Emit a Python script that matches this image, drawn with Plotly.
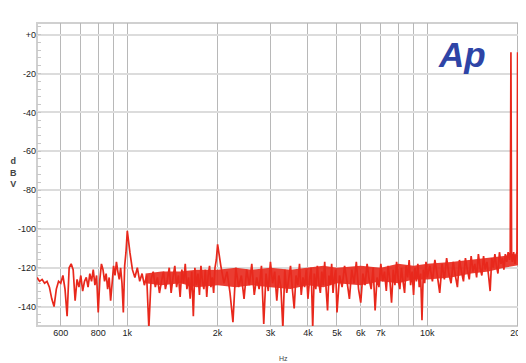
import plotly.graph_objects as go

# ---- data (FFT spectrum, Hz vs dB) ----
freq_a = [500, 510, 520, 530, 540, 550, 560, 570, 580, 590, 600, 610, 620, 630, 640, 650, 660, 670, 680, 690,
          700, 710, 720, 730, 740, 750, 760, 770, 780, 790, 800, 810, 820, 830, 840, 850, 860, 870, 880, 890,
          900, 910, 920, 930, 940, 950, 960, 970, 980, 990, 1000]
db_a = [-125, -127, -126, -128, -127, -130, -136, -140, -131, -127, -128, -124, -131, -145, -120, -118, -121, -137, -126, -130,
        -124, -132, -127, -125, -130, -123, -127, -121, -129, -124, -143, -126, -118, -121, -127, -123, -131, -125, -137, -128,
        -119, -124, -117, -122, -126, -120, -128, -143, -119, -112, -101]

freq_b = [1020, 1040, 1060, 1080, 1100, 1120, 1140, 1160, 1180, 1200, 1220, 1240, 1260, 1280, 1300, 1320, 1340, 1360, 1380, 1400,
          1420, 1440, 1460, 1480, 1500, 1520, 1540, 1560, 1580, 1600, 1620, 1640, 1660, 1680, 1700, 1720, 1740, 1760, 1780, 1800,
          1820, 1840, 1860, 1880, 1900, 1920, 1940, 1960, 1980, 2000]
db_b = [-112, -121, -125, -120, -127, -123, -129, -124, -151, -126, -122, -130, -125, -133, -127, -122, -131, -126, -120, -133,
        -125, -119, -130, -124, -135, -121, -128, -118, -131, -125, -136, -122, -145, -120, -129, -123, -134, -119, -127, -131,
        -121, -135, -124, -119, -130, -125, -133, -120, -116, -108]

freq_c = [2050, 2100, 2150, 2200, 2250, 2300, 2350, 2400, 2450, 2500, 2550, 2600, 2650, 2700, 2750, 2800, 2850, 2900, 2950, 3000,
          3050, 3100, 3150, 3200, 3250, 3300, 3350, 3400, 3450, 3500, 3550, 3600, 3650, 3700, 3750, 3800, 3850, 3900, 3950, 4000,
          4050, 4100, 4150, 4200, 4250, 4300, 4350, 4400, 4450, 4500, 4550, 4600, 4650, 4700, 4750, 4800, 4850, 4900, 4950, 5000]
db_c = [-119, -128, -122, -133, -148, -120, -130, -124, -136, -121, -129, -118, -134, -125, -131, -119, -149, -123, -132, -117,
        -128, -122, -137, -124, -130, -151, -121, -133, -126, -119, -131, -141, -124, -129, -118, -134, -125, -130, -121, -136,
        -126, -120, -151, -123, -131, -119, -128, -133, -122, -129, -117, -131, -142, -124, -129, -118, -133, -125, -121, -143]

freq_d = [5100, 5200, 5300, 5400, 5500, 5600, 5700, 5800, 5900, 6000, 6100, 6200, 6300, 6400, 6500, 6600, 6700, 6800, 6900, 7000,
          7100, 7200, 7300, 7400, 7500, 7600, 7700, 7800, 7900, 8000, 8100, 8200, 8300, 8400, 8500, 8600, 8700, 8800, 8900, 9000,
          9100, 9200, 9300, 9400, 9500, 9600, 9700, 9800, 9900, 10000]
db_d = [-124, -130, -119, -127, -136, -121, -128, -117, -131, -138, -123, -129, -118, -126, -131, -120, -142, -125, -130, -118,
        -127, -122, -132, -119, -126, -138, -121, -129, -117, -126, -131, -120, -127, -133, -119, -125, -116, -129, -122, -134,
        -120, -127, -118, -130, -123, -147, -121, -128, -117, -125]

freq_e = [10200, 10400, 10600, 10800, 11000, 11200, 11400, 11600, 11800, 12000, 12200, 12400, 12600, 12800, 13000, 13200, 13400,
          13600, 13800, 14000, 14200, 14400, 14600, 14800, 15000, 15200, 15400, 15600, 15800, 16000, 16200, 16400, 16600, 16800,
          17000, 17200, 17400, 17600, 17800, 18000, 18200, 18400, 18600, 18800, 18900, 19000, 19100, 19200, 19400, 19600, 19800,
          19900, 20000, 20100, 20200, 20400, 20600, 20800, 21000, 21400]
db_e = [-119, -127, -116, -124, -133, -118, -126, -115, -123, -128, -117, -124, -130, -116, -122, -127, -115,
        -121, -126, -114, -122, -118, -125, -113, -120, -124, -114, -121, -117, -124, -132, -115, -120, -113,
        -119, -123, -112, -118, -115, -121, -113, -117, -112, -116, -112, -9, -114, -117, -112, -118, -113,
        -112, -9, -113, -117, -112, -118, -114, -116, -113]

freq_hz = freq_a + freq_b + freq_c + freq_d + freq_e
level_db = db_a + db_b + db_c + db_d + db_e

# dense part of the noise floor (upper / lower edge of the solid band)
band_freq = [1150, 1300, 1500, 1700, 2000, 2300, 2600, 3000, 3500, 4000, 4500, 5000, 6000, 7000, 8000, 9000,
             10000, 12000, 14000, 16000, 18000, 19500, 21400]
band_hi = [-123, -122, -122, -121, -121, -120, -121, -120, -121, -120, -119, -120, -119, -120, -118, -119,
           -118, -117, -116, -115, -114, -113, -113]
band_lo = [-128, -129, -128, -130, -129, -130, -129, -130, -131, -129, -130, -128, -129, -127, -128, -126,
           -126, -125, -123, -122, -120, -119, -118]

x_grid = [600, 700, 800, 900, 1000, 2000, 3000, 4000, 5000, 6000, 7000, 8000, 9000, 10000, 20000]
x_labels = ["600", "", "800", "", "1k", "2k", "3k", "4k", "5k", "6k", "7k", "", "", "10k", "20k"]
y_ticks = [0, -20, -40, -60, -80, -100, -120, -140]
y_labels = ["+0", "-20", "-40", "-60", "-80", "-100", "-120", "-140"]

RED = "#e8281c"

fig = go.Figure()
fig.add_trace(go.Scatter(
    x=band_freq + band_freq[::-1], y=band_hi + band_lo[::-1],
    mode="lines", fill="toself", fillcolor="rgba(232,40,28,0.9)",
    line=dict(width=0, color=RED), hoverinfo="skip", showlegend=False,
))
fig.add_trace(go.Scatter(
    x=freq_hz, y=level_db, mode="lines",
    line=dict(color=RED, width=1.7, simplify=False),
    hoverinfo="skip", showlegend=False,
))

tick_font = dict(family="Liberation Sans, Arial, sans-serif", size=9, color="#222")

fig.update_xaxes(
    type="log", range=[2.699, 4.329], automargin=False,
    tickmode="array", tickvals=x_grid, ticktext=x_labels,
    showgrid=True, gridcolor="#b8b8b8", gridwidth=1,
    ticks="", tickfont=tick_font, showline=False, zeroline=False,
)
fig.update_yaxes(
    range=[-150, 6], automargin=False,
    tickmode="array", tickvals=y_ticks, ticktext=y_labels,
    showgrid=True, gridcolor="#dcdcdc", gridwidth=2,
    ticks="", tickfont=tick_font, showline=False, zeroline=False,
    minor=dict(tickmode="linear", tick0=0, dtick=4, ticks="inside", ticklen=4,
               tickcolor="#c8c8c8", showgrid=False),
)

# plot frame
fig.add_shape(type="rect", xref="paper", yref="paper", x0=0, y0=0, x1=1.02, y1=1,
              line=dict(color="#d0d0d0", width=2), fillcolor="rgba(0,0,0,0)", layer="below")


def px(xp):
    return (xp - 37) / 489


def py(yp):
    return (326 - yp) / 303


fig.add_annotation(text="<b><i>Ap</i></b>", xref="paper", yref="paper",
                   x=px(462), y=py(55), xanchor="center", yanchor="middle", showarrow=False,
                   font=dict(family="Liberation Sans, Arial, sans-serif", size=35, color="#2e44a6"))
fig.add_annotation(text="Hz", xref="paper", yref="paper",
                   x=px(283), y=py(358), xanchor="center", yanchor="middle", showarrow=False,
                   font=dict(family="Liberation Sans, Arial, sans-serif", size=7, color="#444"))
fig.add_annotation(text="<b>d<br>B<br>V</b>", xref="paper", yref="paper",
                   x=px(19), y=py(172), xanchor="right", yanchor="middle", showarrow=False,
                   font=dict(family="Liberation Sans, Arial, sans-serif", size=9, color="#444"))

# the page adds an 8 px body margin, so the figure's margins are reduced by 8 px
fig.update_layout(
    width=526, height=363,
    margin=dict(l=29, r=8, t=15, b=45, autoexpand=False),
    paper_bgcolor="white", plot_bgcolor="white",
)

fig.write_html("out.html")
